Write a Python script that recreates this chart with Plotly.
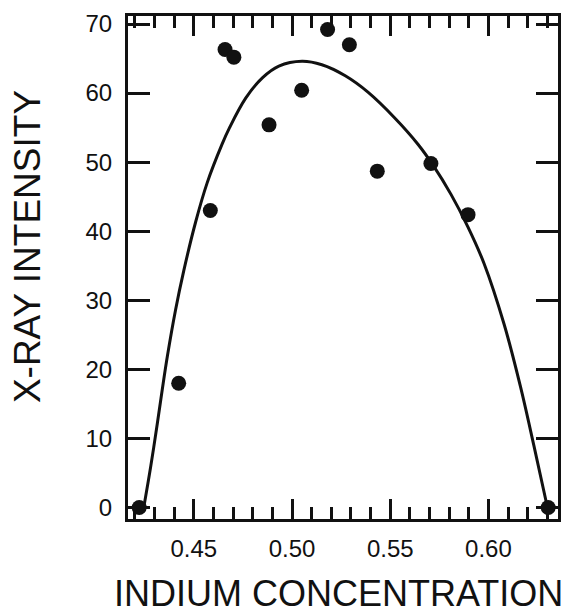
import plotly.graph_objects as go

# Measured data points (indium concentration, x-ray intensity)
pts_x = [0.4222, 0.4423, 0.4584, 0.4659, 0.4704, 0.4883, 0.5049, 0.5181, 0.5292, 0.5434, 0.5707, 0.5896, 0.6304]
pts_y = [0.0, 18.0, 43.0, 66.3, 65.2, 55.4, 60.4, 69.2, 67.0, 48.7, 49.8, 42.4, 0.0]

# Fitted curve
curve_x = [0.4247, 0.4281, 0.4315, 0.4340, 0.4366, 0.4407, 0.4449, 0.4509, 0.4568, 0.4644,
           0.4682, 0.4765, 0.4849, 0.4933, 0.5051, 0.5152, 0.5271, 0.5388, 0.5523, 0.5641,
           0.5717, 0.5810, 0.5894, 0.5978, 0.6080, 0.6163, 0.6231, 0.6298]
curve_y = [0.3, 6.0, 12.3, 17.2, 22.0, 28.6, 34.3, 41.3, 47.0, 52.6,
           55.0, 59.3, 62.2, 63.9, 64.6, 64.1, 62.5, 60.1, 56.4, 52.6,
           49.6, 45.3, 40.7, 35.3, 26.5, 17.5, 9.0, 0.3]

x_tickvals = [0.45, 0.50, 0.55, 0.60]
x_ticktext = ["0.45", "0.50", "0.55", "0.60"]
y_tickvals = [0, 10, 20, 30, 40, 50, 60, 70]
y_ticktext = ["0", "10", "20", "30", "40", "50", "60", "70"]

x_title = "INDIUM CONCENTRATION"
y_title = "X-RAY INTENSITY"

FONT = "Liberation Sans, Arial, Helvetica, sans-serif"
INK = "#111111"

fig = go.Figure()
fig.add_trace(go.Scatter(
    x=curve_x, y=curve_y, mode="lines",
    line=dict(color=INK, width=3, shape="spline", smoothing=1.0),
    hoverinfo="skip", showlegend=False,
))
fig.add_trace(go.Scatter(
    x=pts_x, y=pts_y, mode="markers",
    marker=dict(color=INK, size=15, line=dict(width=0)),
    cliponaxis=False, showlegend=False,
))

fig.update_layout(
    width=571, height=615,
    margin=dict(l=128, r=10, t=16, b=96),
    paper_bgcolor="white", plot_bgcolor="white",
    font=dict(family=FONT, color=INK),
    xaxis=dict(
        range=[0.4165, 0.6354],
        tickmode="array", tickvals=x_tickvals, ticktext=x_ticktext,
        ticks="inside", ticklen=20, tickwidth=2.5, tickcolor=INK,
        minor=dict(dtick=0.01, tick0=0.40, ticks="inside", ticklen=12, tickwidth=2.5, tickcolor=INK, showgrid=False),
        showline=True, linewidth=3, linecolor=INK, mirror="allticks",
        showgrid=False, zeroline=False,
        tickfont=dict(size=24, family=FONT, color=INK),
        ticklabelstandoff=6,
    ),
    yaxis=dict(
        range=[-1.66, 71.16],
        tickmode="array", tickvals=y_tickvals, ticktext=y_ticktext,
        ticks="inside", ticklen=22, tickwidth=2.5, tickcolor=INK,
        showline=True, linewidth=3, linecolor=INK, mirror="allticks",
        showgrid=False, zeroline=False,
        tickfont=dict(size=24, family=FONT, color=INK),
        ticklabelstandoff=8,
    ),
    annotations=[
        dict(text=x_title, xref="paper", yref="paper", x=0.49, y=-0.149,
             xanchor="center", yanchor="middle", showarrow=False,
             font=dict(size=36, family=FONT, color=INK)),
        dict(text=y_title, xref="paper", yref="paper", x=-0.232, y=0.541,
             xanchor="center", yanchor="middle", textangle=-90, showarrow=False,
             font=dict(size=37, family=FONT, color=INK)),
    ],
)

fig.write_html("out.html", config={"displayModeBar": False},
               post_script="document.body.style.margin='0';document.body.style.overflow='hidden';")
